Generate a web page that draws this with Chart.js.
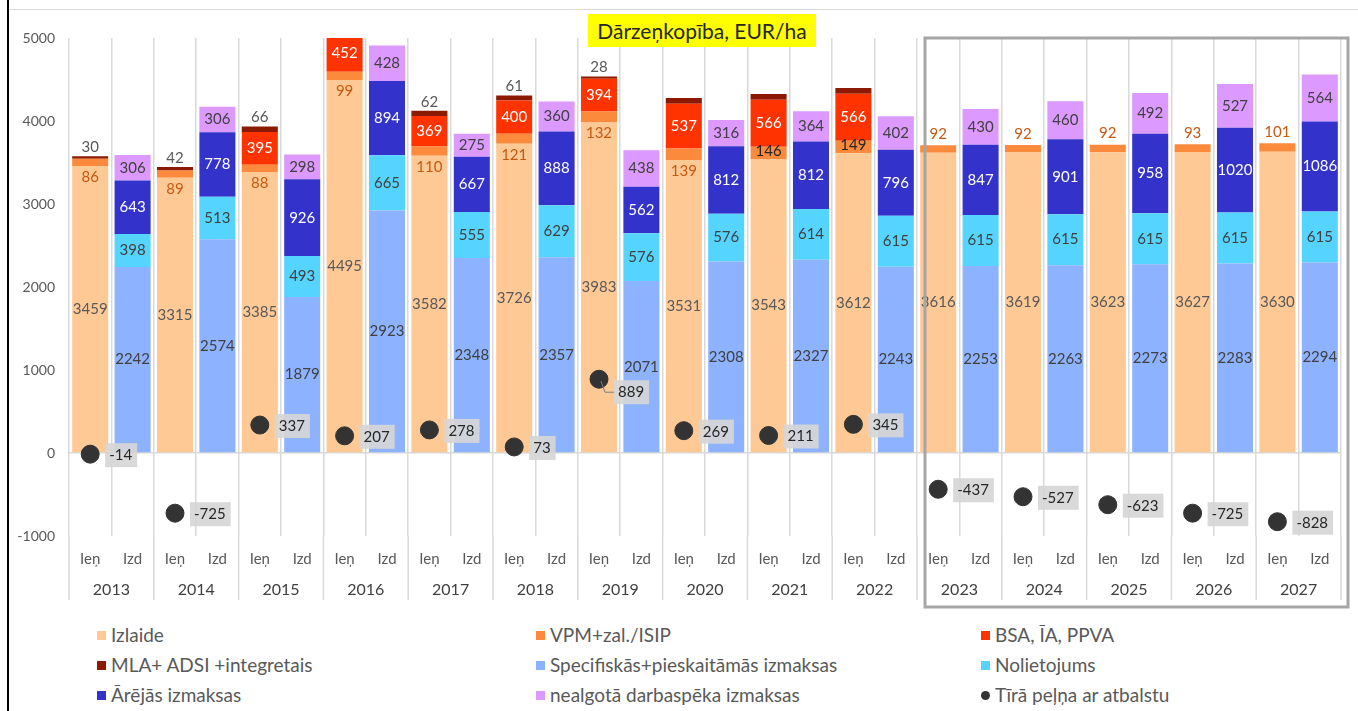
<!DOCTYPE html>
<html>
<head>
  <title>Dārzeņkopība, EUR/ha</title>
  <script src="https://cdn.jsdelivr.net/npm/chart.js"></script>
  <style>
    body {
      margin: 0;
      background: #fff;
      font-family: Lato, sans-serif;
    }
    #wrap {
      position: relative;
      width: 1358px;
      height: 711px;
      overflow: hidden;
    }
    #leftRule {
      position: absolute;
      left: 7px;
      top: 0;
      width: 2px;
      height: 711px;
      background: #000;
    }
    #topRule {
      position: absolute;
      left: 9px;
      top: 9px;
      width: 1349px;
      height: 1px;
      background: #d9d9d9;
    }
    canvas {
      position: absolute;
      left: 0;
      top: 0;
    }
    #title {
      position: absolute;
      left: 588px;
      top: 14px;
      width: 228px;
      height: 33px;
      line-height: 33px;
      background: #ffff00;
      color: #262626;
      font-size: 21px;
      text-align: center;
    }
    .legend-item {
      position: absolute;
      font-size: 19px;
      color: #595959;
      white-space: nowrap;
      line-height: 20px;
    }
    .legend-item span {
      display: inline-block;
      width: 9px;
      height: 9px;
      margin-right: 5px;
      vertical-align: 2px;
    }
  </style>
</head>
<body>
  <div id="wrap">
    <canvas id="chart" width="1358" height="620"></canvas>
    <div id="leftRule"></div>
    <div id="topRule"></div>
    <div id="title">Dārzeņkopība, EUR/ha</div>
    <div id="legend"></div>
  </div>

  <script>
    const years = ['2013', '2014', '2015', '2016', '2017', '2018', '2019', '2020',
                   '2021', '2022', '2023', '2024', '2025', '2026', '2027'];
    const sides = ['Ieņ', 'Izd'];

    // Ieņēmumi (left bar of each year)
    const izlaide = [3459, 3315, 3385, 4495, 3582, 3726, 3983, 3531, 3543, 3612, 3616, 3619, 3623, 3627, 3630];
    const vpm = [86, 89, 88, 99, 110, 121, 132, 139, 146, 149, 92, 92, 92, 93, 101];
    const bsa = [null, null, 395, 452, 369, 400, 394, 537, 566, 566, null, null, null, null, null];
    const mla = [30, 42, 66, null, 62, 61, 28, 70, 70, 70, null, null, null, null, null];
    const mlaUnlabelled = ['2020', '2021', '2022'];

    // Izmaksas (right bar of each year)
    const specifiskas = [2242, 2574, 1879, 2923, 2348, 2357, 2071, 2308, 2327, 2243, 2253, 2263, 2273, 2283, 2294];
    const nolietojums = [398, 513, 493, 665, 555, 629, 576, 576, 614, 615, 615, 615, 615, 615, 615];
    const arejas = [643, 778, 926, 894, 667, 888, 562, 812, 812, 796, 847, 901, 958, 1020, 1086];
    const nealgota = [306, 306, 298, 428, 275, 360, 438, 316, 364, 402, 430, 460, 492, 527, 564];

    // Tīrā peļņa ar atbalstu (dot on the Ieņ bar)
    const pelna = [-14, -725, 337, 207, 278, 73, 889, 269, 211, 345, -437, -527, -623, -725, -828];

    const seriesNames = ['Izlaide', 'VPM+zal./ISIP', 'BSA, ĪA, PPVA', 'MLA+ ADSI +integretais',
      'Specifiskās+pieskaitāmās izmaksas', 'Nolietojums', 'Ārējās izmaksas',
      'nealgotā darbaspēka izmaksas', 'Tīrā peļņa ar atbalstu'];
    const colors = ['#ffc996', '#fb8a3c', '#ff3300', '#8b1a00', '#8db2ff', '#55d4ff', '#3333cc', '#dc99ff', '#333333'];

    // spread 15 yearly values onto 30 categories (Ieņ, Izd, Ieņ, Izd ...)
    function spread(arr, side) {
      const out = [];
      arr.forEach(v => {
        if (side === 0) { out.push(v); out.push(null); }
        else { out.push(null); out.push(v); }
      });
      return out;
    }

    const labels = [];
    years.forEach(() => sides.forEach(s => labels.push(s)));

    const barSets = [
      [izlaide, 0, 'center', '#595959'],
      [vpm, 0, 'vpm', '#c55a11'],
      [bsa, 0, 'center', '#ffffff'],
      [mla, 0, 'above', '#595959'],
      [specifiskas, 1, 'center', '#404040'],
      [nolietojums, 1, 'center', '#404040'],
      [arejas, 1, 'center', '#ffffff'],
      [nealgota, 1, 'center', '#404040']
    ];

    const datasets = barSets.map((b, i) => ({
      type: 'bar',
      label: seriesNames[i],
      data: spread(b[0], b[1]),
      backgroundColor: colors[i],
      barPercentage: 0.85,
      categoryPercentage: 1,
      stack: 'a',
      lbl: b[2],
      lblColor: b[3]
    }));

    datasets.push({
      type: 'line',
      label: seriesNames[8],
      data: spread(pelna, 0),
      showLine: false,
      pointRadius: 9,
      pointHoverRadius: 9,
      pointBackgroundColor: colors[8],
      pointBorderColor: colors[8],
      stack: 'p',
      order: -1,
      lbl: 'box',
      lblColor: '#262626'
    });

    const barLabels = {
      id: 'barLabels',
      afterDatasetsDraw(chart) {
        const ctx = chart.ctx;
        ctx.save();
        ctx.font = '15px Lato';
        ctx.textBaseline = 'middle';
        chart.data.datasets.forEach((ds, di) => {
          const meta = chart.getDatasetMeta(di);
          meta.data.forEach((el, i) => {
            const v = ds.data[i];
            if (v == null) return;
            const yi = Math.floor(i / 2);
            let x = el.x, y, color = ds.lblColor;
            ctx.textAlign = 'center';
            if (ds.lbl === 'center') {
              y = (el.y + el.base) / 2;
            } else if (ds.lbl === 'vpm') {
              if (yi <= 7) y = el.base + 11;
              else if (yi <= 9) { y = (el.y + el.base) / 2 - 2; color = '#262626'; }
              else y = el.y - 11;
            } else if (ds.lbl === 'above') {
              if (mlaUnlabelled.includes(years[yi])) return;
              y = el.y - 9;
            } else if (ds.lbl === 'box') {
              const txt = String(v);
              const tw = ctx.measureText(txt).width;
              const off = v === 889 ? 13 : 1;
              const bx = el.x + 15, by = el.y + off - 12;
              ctx.fillStyle = 'rgba(214,214,214,0.92)';
              ctx.fillRect(bx, by, tw + 9, 24);
              if (v === 889) {
                ctx.strokeStyle = '#808080';
                ctx.lineWidth = 1;
                ctx.beginPath();
                ctx.moveTo(el.x + 2, el.y + 2);
                ctx.lineTo(el.x + 6, el.y + 13);
                ctx.lineTo(bx, el.y + 13);
                ctx.stroke();
              }
              ctx.fillStyle = color;
              ctx.textAlign = 'left';
              ctx.fillText(txt, bx + 4, by + 12);
              return;
            }
            ctx.fillStyle = color;
            ctx.fillText(String(v), x, y);
          });
        });
        ctx.restore();
      }
    };

    const yearAxis = {
      id: 'yearAxis',
      afterDraw(chart) {
        const ctx = chart.ctx;
        const xs = chart.scales.x;
        const area = chart.chartArea;
        const cat = xs.getPixelForValue(1) - xs.getPixelForValue(0);
        ctx.save();
        ctx.strokeStyle = '#d9d9d9';
        ctx.lineWidth = 1.5;
        for (let k = 0; k <= years.length; k++) {
          const bx = xs.getPixelForValue(2 * k) - cat / 2;
          ctx.beginPath();
          ctx.moveTo(bx, area.bottom);
          ctx.lineTo(bx, area.bottom + 64);
          ctx.stroke();
        }
        ctx.font = '16px Lato';
        ctx.fillStyle = '#404040';
        ctx.textAlign = 'center';
        ctx.textBaseline = 'middle';
        years.forEach((yr, k) => {
          const cx = (xs.getPixelForValue(2 * k) + xs.getPixelForValue(2 * k + 1)) / 2;
          ctx.fillText(yr, cx, area.bottom + 54);
        });
        // frame round the forecast years
        const left = xs.getPixelForValue(years.indexOf('2023') * 2) - cat / 2 + 8;
        ctx.strokeStyle = '#a6a6a6';
        ctx.lineWidth = 3;
        ctx.strokeRect(left, area.top, area.right + 7 - left, area.bottom + 71 - area.top);
        ctx.restore();
      }
    };

    new Chart(document.getElementById('chart'), {
      data: { labels: labels, datasets: datasets },
      options: {
        responsive: false,
        animation: false,
        layout: { padding: { left: 10, right: 17, top: 38, bottom: 0 } },
        plugins: {
          legend: { display: false },
          tooltip: { enabled: false },
          title: { display: false }
        },
        scales: {
          x: {
            stacked: true,
            afterFit: s => { s.height = 84; },
            border: { display: false },
            grid: { color: '#d9d9d9', lineWidth: 1.5, drawTicks: false },
            ticks: {
              autoSkip: false,
              maxRotation: 0,
              padding: 14,
              color: '#595959',
              font: { family: 'Lato', size: 15 }
            }
          },
          y: {
            stacked: true,
            min: -1000,
            max: 5000,
            afterFit: s => { s.width = 59; },
            border: { display: false },
            grid: {
              drawTicks: false,
              color: c => (c.tick && c.tick.value === 0 ? '#d9d9d9' : 'rgba(0,0,0,0)'),
              lineWidth: 1.5
            },
            ticks: {
              stepSize: 1000,
              padding: 14,
              color: '#595959',
              font: { family: 'Lato', size: 14 },
              callback: v => String(v)
            }
          }
        }
      },
      plugins: [barLabels, yearAxis]
    });

    // legend, three columns like the original
    const legend = document.getElementById('legend');
    const colX = [97, 536, 981];
    const rowY = [625, 655, 685];
    seriesNames.forEach((name, i) => {
      const item = document.createElement('div');
      item.className = 'legend-item';
      item.style.left = colX[i % 3] + 'px';
      item.style.top = rowY[Math.floor(i / 3)] + 'px';
      const mark = document.createElement('span');
      mark.style.background = colors[i];
      if (i === 8) mark.style.borderRadius = '50%';
      item.appendChild(mark);
      item.appendChild(document.createTextNode(name));
      legend.appendChild(item);
    });
  </script>
</body>
</html>
